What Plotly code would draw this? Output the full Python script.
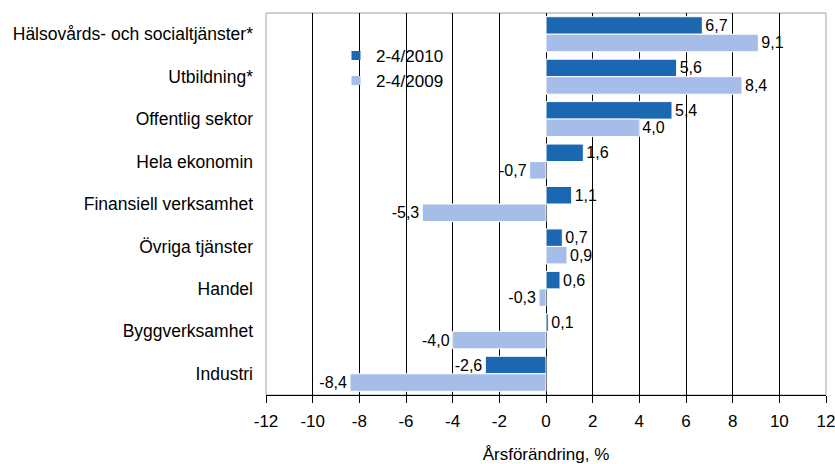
import plotly.graph_objects as go

categories = ["Hälsovårds- och socialtjänster*", "Utbildning*", "Offentlig sektor",
              "Hela ekonomin", "Finansiell verksamhet", "Övriga tjänster",
              "Handel", "Byggverksamhet", "Industri"]
vals_2010 = [6.7, 5.6, 5.4, 1.6, 1.1, 0.7, 0.6, 0.1, -2.6]
vals_2009 = [9.1, 8.4, 4.0, -0.7, -5.3, 0.9, -0.3, -4.0, -8.4]
series_names = ["2-4/2010", "2-4/2009"]
series_colors = ["#1C67B1", "#A6BDE9"]
tick_vals = list(range(-12, 13, 2))
tick_text = [str(t) for t in tick_vals]

def fmt(v):
    return f"{v:.1f}".replace(".", ",")

family = "Liberation Sans, Arial, sans-serif"
font = dict(family=family, size=17.5, color="black")
val_font = dict(family=family, size=16, color="black")
tick_font = dict(family=family, size=17, color="black")

fig = go.Figure()
for name, vals, col in zip(series_names, [vals_2010, vals_2009], series_colors):
    fig.add_trace(go.Bar(y=categories, x=vals, orientation="h", name=name,
                         marker=dict(color=col, line=dict(color="white", width=1)),
                         text=[fmt(v) for v in vals], textposition="outside",
                         textfont=val_font, constraintext="none", cliponaxis=False,
                         showlegend=False, hoverinfo="skip"))
for name, col in zip(series_names, series_colors):
    fig.add_trace(go.Scatter(x=[None], y=[None], mode="markers", name=name,
                             marker=dict(symbol="square", size=9, color=col),
                             showlegend=True, hoverinfo="skip"))

fig.update_layout(
    width=835, height=464,
    margin=dict(l=266, r=9, t=13, b=69, autoexpand=False),
    paper_bgcolor="white", plot_bgcolor="white",
    font=font,
    barmode="group", bargap=0.175, bargroupgap=0.0,
    legend=dict(x=0.125, y=0.935, xanchor="left", yanchor="top",
                bgcolor="rgba(0,0,0,0)", font=tick_font, itemwidth=30,
                tracegroupgap=0),
    xaxis=dict(range=[-12, 12], tickvals=tick_vals, ticktext=tick_text,
               automargin=False, ticklabeloverflow="allow",
               showgrid=True, gridcolor="black", gridwidth=1,
               zeroline=True, zerolinecolor="black", zerolinewidth=1,
               showline=True, linecolor="black", linewidth=1,
               ticks="outside", ticklen=7, tickcolor="black",
               tickfont=tick_font, ticklabelstandoff=4,
               title=dict(text="Årsförändring, %", font=tick_font, standoff=26)),
    yaxis=dict(autorange="reversed", showgrid=False, zeroline=False,
               automargin=False,
               showline=False, ticks="", tickfont=font, ticklabelstandoff=12),
    shapes=[dict(type="rect", xref="paper", yref="paper", x0=0, x1=1, y0=0, y1=1,
                 line=dict(color="#A0A0A0", width=1), layer="below")],
)

fig.write_html("out.html", config={"displayModeBar": False},
               post_script="document.body.style.margin='0';")
